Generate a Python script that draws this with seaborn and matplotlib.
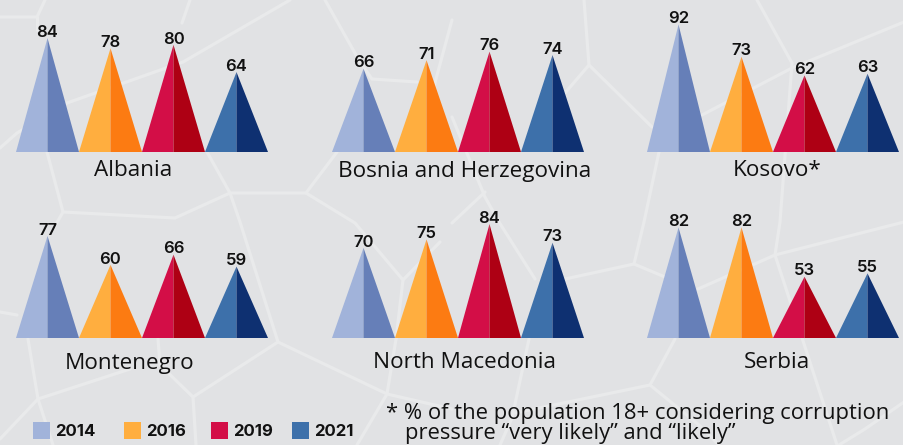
import pandas as pd
import matplotlib.pyplot as plt
from matplotlib.patches import Rectangle
import seaborn as sns

# values
countries = ["Albania", "Bosnia and Herzegovina", "Kosovo*",
             "Montenegro", "North Macedonia", "Serbia"]
years = ["2014", "2016", "2019", "2021"]
albania = [84, 78, 80, 64]
bosnia = [66, 71, 76, 74]
kosovo = [92, 73, 62, 63]
montenegro = [77, 60, 66, 59]
north_macedonia = [70, 75, 84, 73]
serbia = [82, 82, 53, 55]
all_values = [albania, bosnia, kosovo, montenegro, north_macedonia, serbia]

light_colors = ["#a1b3da", "#ffae3f", "#d30e47", "#3d70aa"]
dark_colors = ["#667fb8", "#fc7b12", "#ae0014", "#0e3071"]

footnote = ["* % of the population 18+ considering corruption",
            "pressure “very likely” and “likely”"]

# long format table
rows = []
for country, values in zip(countries, all_values):
    for year, value in zip(years, values):
        rows.append({"country": country, "year": year, "value": value})
df = pd.DataFrame(rows)

sns.set_theme(style="white")
plt.rcParams["font.family"] = ["Open Sans", "DejaVu Sans"]

W, H = 904, 445
BG = "#e1e2e4"
LINE = "#e9eaeb"
TEXT = "#111111"
BASE = 17        # value at which the triangle bases sit
PX_PER_UNIT = 1.7

fig = plt.figure(figsize=(W / 100, H / 100), dpi=100, facecolor=BG)

# page overlay in pixel coordinates, for the map and the free text
page = fig.add_axes([0, 0, 1, 1])
page.set_xlim(0, W)
page.set_ylim(H, 0)
page.axis("off")

# decorative map borders behind the chart
map_lines = [
    [(0, 17), (37, 17), (45, 0)],
    [(37, 17), (37, 30)],
    [(190, 0), (182, 23)],
    [(290, 0), (183, 62), (67, 103), (17, 133), (0, 148)],
    [(47, 152), (63, 212), (175, 218), (230, 193), (207, 152)],
    [(230, 193), (306, 193), (337, 152)],
    [(306, 193), (355, 223), (403, 280), (396, 339)],
    [(230, 193), (240, 222), (278, 342), (193, 397), (196, 445)],
    [(63, 212), (55, 226)],
    [(325, 0), (360, 62), (372, 79), (417, 82)],
    [(452, 20), (433, 90)],
    [(584, 0), (589, 65), (565, 93)],
    [(589, 65), (652, 127)],
    [(757, 0), (792, 63), (780, 222), (775, 255), (837, 445)],
    [(904, 22), (792, 68), (702, 115)],
    [(659, 152), (644, 222), (634, 264), (565, 279)],
    [(634, 264), (665, 277)],
    [(452, 117), (485, 197), (499, 222), (535, 279)],
    [(452, 223), (485, 192)],
    [(775, 255), (904, 222)],
    [(775, 255), (698, 289)],
    [(675, 339), (650, 385), (515, 413)],
    [(650, 385), (699, 425), (719, 445)],
    [(529, 339), (512, 418), (500, 445)],
    [(904, 402), (865, 429), (839, 445)],
    [(193, 397), (160, 365), (158, 339)],
    [(278, 342), (387, 394), (452, 409)],
    [(387, 394), (396, 339)],
    [(387, 394), (357, 445)],
    [(28, 339), (38, 399), (130, 369)],
    [(38, 399), (0, 439)],
    [(38, 399), (53, 445)],
    [(0, 312), (17, 315)],
    [(403, 280), (440, 242)],
]
for line in map_lines:
    page.plot([p[0] for p in line], [p[1] for p in line],
              color=LINE, lw=2.3, solid_joinstyle="miter", zorder=1)

# pixel layout of the six panels: left edge, baseline
panel_left = [16, 332, 647, 16, 332, 647]
panel_base = [152, 152, 152, 338, 338, 338]
label_x = [133, 465, 777, 130, 465, 777]
label_y = [171, 171, 171, 363, 363, 363]
panel_w, panel_h = 252, 145

for i, country in enumerate(countries):
    sub = df[df["country"] == country]
    ax = fig.add_axes([panel_left[i] / W, (H - panel_base[i]) / H,
                       panel_w / W, panel_h / H])
    ax.patch.set_alpha(0)

    # bars give the positions and heights, each one is redrawn as a triangle
    sns.barplot(data=sub, x="year", y="value", order=years, width=1, ax=ax)
    ax.set_ylim(BASE, BASE + panel_h / PX_PER_UNIT)
    ax.set_xlim(-0.5, 3.5)
    ax.axis("off")
    for j, bar in enumerate(list(ax.patches)):
        x0 = bar.get_x()
        w = bar.get_width()
        top = bar.get_height()
        xc = x0 + w / 2
        bar.set_visible(False)
        ax.fill([x0, xc, xc], [BASE, top, BASE], color=light_colors[j], lw=0, zorder=3)
        ax.fill([xc, x0 + w, xc], [BASE, BASE, top], color=dark_colors[j], lw=0, zorder=3)
        ax.annotate(f"{top:.0f}", (xc, top), xytext=(0, 1), textcoords="offset points",
                    ha="center", va="baseline", fontsize=12, fontweight="semibold",
                    family=["Inter", "DejaVu Sans"], color=TEXT, annotation_clip=False)

    page.text(label_x[i], label_y[i], country, ha="center", va="center",
              fontsize=16.2, color=TEXT)

# legend
legend_x = [33, 124, 211, 292]
for x, year, color in zip(legend_x, years, light_colors):
    page.add_patch(Rectangle((x, 422), 17, 17, color=color, lw=0, zorder=2))
    page.text(x + 22, 432, year, ha="left", va="center", fontsize=12,
              fontweight="bold", family=["Inter", "DejaVu Sans"], color=TEXT)

page.text(386, 414, footnote[0], ha="left", va="center", fontsize=15.8, color=TEXT)
page.text(405, 434, footnote[1], ha="left", va="center", fontsize=15.8, color=TEXT)

plt.savefig("out.png", dpi=100, facecolor=BG)
